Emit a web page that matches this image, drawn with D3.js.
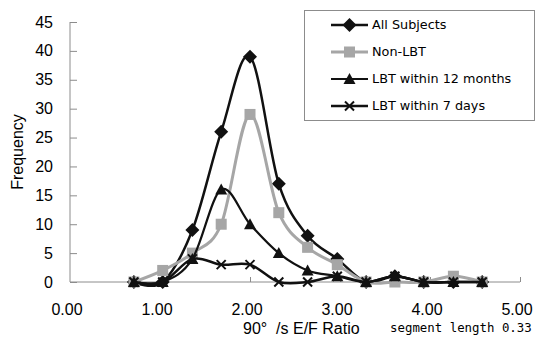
<!DOCTYPE html>
<html>
<head>
<meta charset="utf-8">
<script src="https://cdn.jsdelivr.net/npm/d3@7"></script>
<style>
  body { margin: 0; background: #fff; }
  svg { display: block; }
</style>
</head>
<body>
<div id="chart"></div>
<script>
// bin centres (segment length 0.33)
const ratios = [0.71, 1.03, 1.36, 1.68, 2.00, 2.32, 2.64, 2.97, 3.29, 3.61, 3.93, 4.26, 4.58];

const allSubjects = [0, 0, 9, 26, 39, 17, 8, 4, 0, 1, 0, 0, 0];
const nonLBT      = [0, 2, 5, 10, 29, 12, 6, 3, 0, 0, 0, 1, 0];
const lbt12       = [0, 0, 4, 16, 10, 5, 2, 1, 0, 1, 0, 0, 0];
const lbt7        = [0, 0, 4, 3, 3, 0, 0, 1, 0, 1, 0, 0, 0];

const xTicks = [0, 1, 2, 3, 4, 5];
const yTicks = [0, 5, 10, 15, 20, 25, 30, 35, 40, 45];

const seriesNames = ["All Subjects", "Non-LBT", "LBT within 12 months", "LBT within 7 days"];

const series = [
    { name: seriesNames[0], values: allSubjects, color: "#111", width: 2.5, marker: "diamond" },
    { name: seriesNames[1], values: nonLBT, color: "#a6a6a6", width: 3, marker: "square" },
    { name: seriesNames[2], values: lbt12, color: "#111", width: 2.2, marker: "triangle" },
    { name: seriesNames[3], values: lbt7, color: "#111", width: 2.5, marker: "cross" }
];

const width = 536, height = 338;
const margin = { top: 22, right: 16, bottom: 56, left: 70 };

const x = d3.scaleLinear().domain([0, 5]).range([margin.left, width - margin.right]);
const y = d3.scaleLinear().domain([0, 45]).range([height - margin.bottom, margin.top]);

const svg = d3.select("#chart").append("svg")
    .attr("width", width)
    .attr("height", height)
    .attr("viewBox", [0, 0, width, height]);

const axisColor = "#8c8c8c";
const labelFont = "'Liberation Sans', Arial, sans-serif";

// y axis: ticks point inward
svg.append("g")
    .attr("transform", `translate(${margin.left},0)`)
    .call(d3.axisRight(y).tickValues(yTicks).tickSize(7).tickFormat(""))
    .call(g => g.select(".domain").attr("stroke", axisColor).attr("d", `M0,${y(45)}V${y(0)}`))
    .call(g => g.selectAll(".tick line").attr("stroke", axisColor));

svg.append("g")
    .attr("font-family", labelFont)
    .attr("font-size", 16)
    .attr("fill", "#000")
    .attr("text-anchor", "end")
    .selectAll("text")
    .data(yTicks)
    .join("text")
    .attr("x", margin.left - 17)
    .attr("y", d => y(d))
    .attr("dy", "0.35em")
    .text(d => d);

// x axis: ticks point upward
svg.append("g")
    .attr("transform", `translate(0,${y(0)})`)
    .call(d3.axisTop(x).tickValues(xTicks.slice(1)).tickSize(5).tickFormat(""))
    .call(g => g.select(".domain").attr("stroke", axisColor).attr("d", `M${x(0)},0H${x(5)}`))
    .call(g => g.selectAll(".tick line").attr("stroke", axisColor));

svg.append("g")
    .attr("font-family", labelFont)
    .attr("font-size", 16)
    .attr("fill", "#000")
    .attr("text-anchor", "middle")
    .selectAll("text")
    .data(xTicks)
    .join("text")
    .attr("x", d => x(d) - 3)
    .attr("y", y(0) + 33)
    .text(d => d3.format(".2f")(d));

// axis titles
svg.append("text")
    .attr("transform", "translate(23,152) rotate(-90)")
    .attr("text-anchor", "middle")
    .attr("font-family", labelFont)
    .attr("font-size", 16)
    .text("Frequency");

svg.append("text")
    .attr("x", 243)
    .attr("y", 334)
    .attr("font-family", labelFont)
    .attr("font-size", 16)
    .attr("xml:space", "preserve")
    .style("white-space", "pre")
    .text("90°  /s E/F Ratio");

svg.append("text")
    .attr("x", 390)
    .attr("y", 332)
    .attr("font-family", "'DejaVu Sans Mono', monospace")
    .attr("font-size", 12.4)
    .text("segment length 0.33");

// markers
function drawMarker(g, type, color) {
    if (type === "diamond") {
        g.append("path").attr("d", "M0,-7L7,0L0,7L-7,0Z").attr("fill", color);
    } else if (type === "square") {
        g.append("rect").attr("x", -5.5).attr("y", -5.5).attr("width", 11).attr("height", 11).attr("fill", color);
    } else if (type === "triangle") {
        g.append("path").attr("d", "M0,-6L6,5L-6,5Z").attr("fill", color);
    } else if (type === "cross") {
        g.append("path").attr("d", "M-4.5,-4.5L4.5,4.5M4.5,-4.5L-4.5,4.5")
            .attr("stroke", color).attr("stroke-width", 2).attr("fill", "none");
    }
}

const line = d3.line()
    .curve(d3.curveCardinal.tension(0))
    .x((d, i) => x(ratios[i]))
    .y(d => y(d));

series.forEach(s => {
    const g = svg.append("g");
    g.append("path")
        .attr("d", line(s.values))
        .attr("fill", "none")
        .attr("stroke", s.color)
        .attr("stroke-width", s.width)
        .attr("stroke-linejoin", "round");
    g.selectAll("g")
        .data(s.values)
        .join("g")
        .attr("transform", (d, i) => `translate(${x(ratios[i])},${y(d)})`)
        .each(function () { drawMarker(d3.select(this), s.marker, s.color); });
});

// legend
const legend = svg.append("g");
legend.append("rect")
    .attr("x", 304.5)
    .attr("y", 10.5)
    .attr("width", 230)
    .attr("height", 110)
    .attr("fill", "#fff")
    .attr("stroke", "#8c8c8c");

const legendY = d3.scalePoint().domain(seriesNames).range([25, 106]);

series.forEach(s => {
    const row = legend.append("g").attr("transform", `translate(0,${legendY(s.name)})`);
    row.append("line")
        .attr("x1", 331).attr("x2", 368)
        .attr("stroke", s.color)
        .attr("stroke-width", s.width);
    const m = row.append("g").attr("transform", "translate(349.5,0)");
    drawMarker(m, s.marker, s.color);
    row.append("text")
        .attr("x", 372)
        .attr("dy", "0.35em")
        .attr("font-family", "'DejaVu Sans', sans-serif")
        .attr("font-size", 12.8)
        .text(s.name);
});
</script>
</body>
</html>
